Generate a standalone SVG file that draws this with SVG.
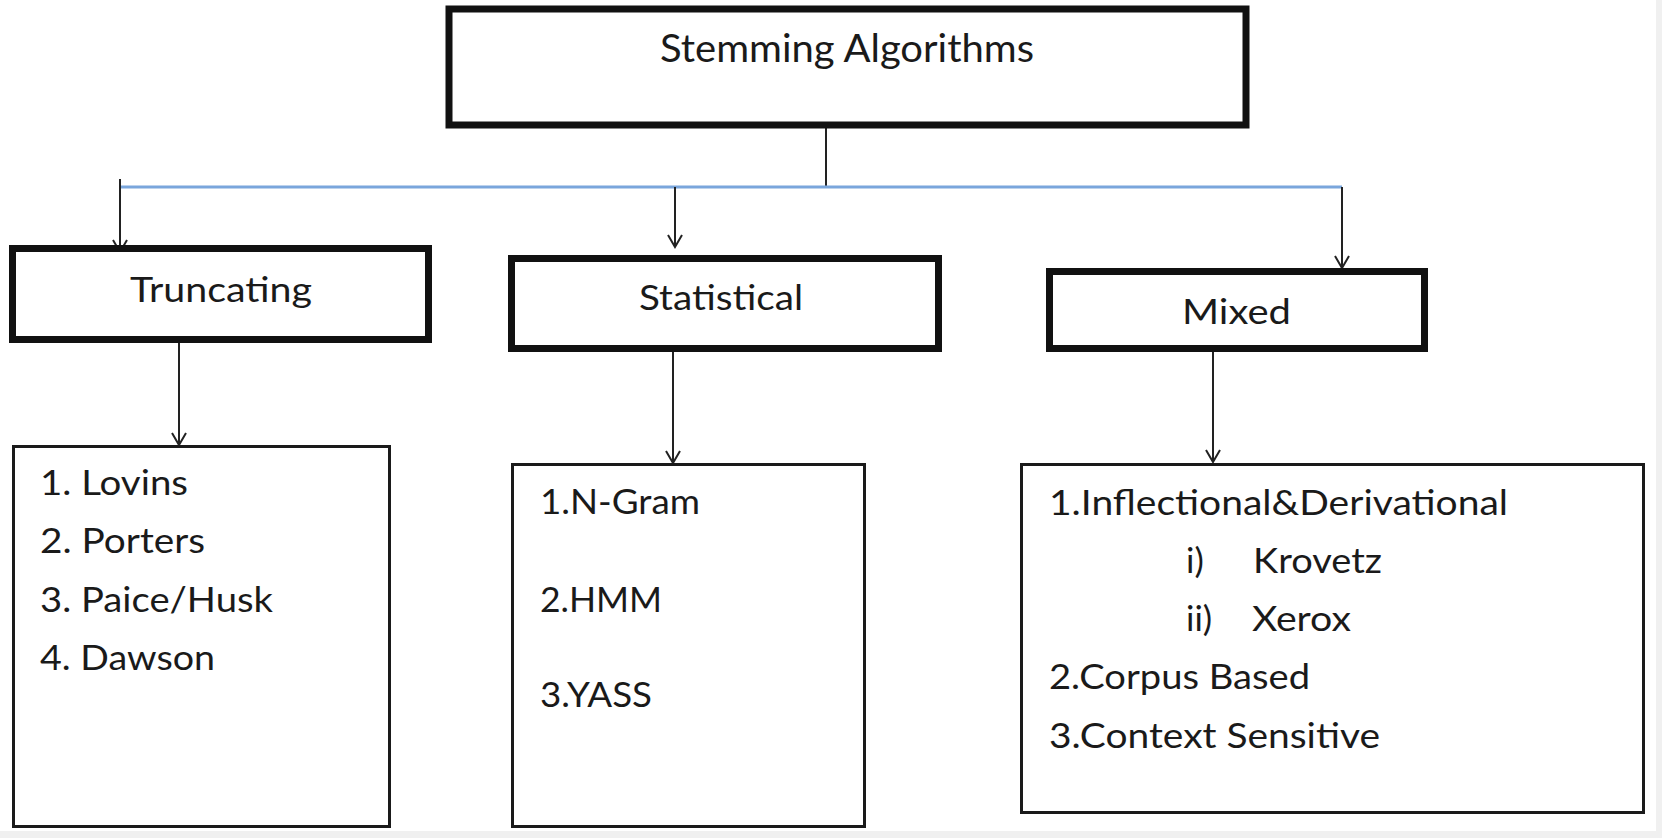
<svg xmlns="http://www.w3.org/2000/svg" width="1662" height="838" viewBox="0 0 1662 838">
<style>
  .hdr{fill:#fff;stroke:#111;stroke-width:7}
  .lst{fill:#fff;stroke:#1a1a1a;stroke-width:3}
  .t{font-family:Lato,"Liberation Sans",sans-serif;font-size:35px;fill:#1a1a1a}
  .big{font-size:39px}
  .con{stroke:#222;stroke-width:2;fill:none}
  .blue{stroke:#7aa6dc;stroke-width:3;fill:none}
</style>
<defs>
  <marker id="ah" markerUnits="userSpaceOnUse" viewBox="-14 -9 16 18" refX="0" refY="0" markerWidth="16" markerHeight="18" orient="auto" overflow="visible">
    <path d="M-12,-7 L0,0 L-12,7" fill="none" stroke="#222" stroke-width="2"/>
  </marker>
</defs>
<rect x="0" y="0" width="1662" height="838" fill="#fff"/>
<rect x="1656" y="0" width="6" height="838" fill="#f0f0f0"/>
<rect x="0" y="831" width="1662" height="7" fill="#f0f0f0"/>

<g id="connectors">
  <line class="con" x1="826" y1="128" x2="826" y2="187"/>
  <line class="blue" x1="120" y1="187" x2="1342" y2="187"/>
  <line class="con" x1="120" y1="179" x2="120" y2="252" marker-end="url(#ah)"/>
  <line class="con" x1="675" y1="187" x2="675" y2="247" marker-end="url(#ah)"/>
  <line class="con" x1="1342" y1="187" x2="1342" y2="268" marker-end="url(#ah)"/>
  <line class="con" x1="179" y1="343" x2="179" y2="445" marker-end="url(#ah)"/>
  <line class="con" x1="673" y1="352" x2="673" y2="463" marker-end="url(#ah)"/>
  <line class="con" x1="1213" y1="352" x2="1213" y2="462" marker-end="url(#ah)"/>
</g>

<g id="stemming">
  <rect class="hdr" x="449" y="9" width="797" height="116"/>
  <text class="t big" x="660" y="62" textLength="374" lengthAdjust="spacingAndGlyphs">Stemming Algorithms</text>
</g>

<g id="truncating">
  <rect class="hdr" x="12.5" y="248.5" width="416" height="91"/>
  <text class="t" x="130" y="302" textLength="182" lengthAdjust="spacingAndGlyphs">Truncating</text>
</g>

<g id="statistical">
  <rect class="hdr" x="511.5" y="258.5" width="427" height="90"/>
  <text class="t" x="639" y="310" textLength="164" lengthAdjust="spacingAndGlyphs">Statistical</text>
</g>

<g id="mixed">
  <rect class="hdr" x="1049.5" y="271.5" width="375" height="77"/>
  <text class="t" x="1182" y="324" textLength="109" lengthAdjust="spacingAndGlyphs">Mixed</text>
</g>

<g id="truncating-list">
  <rect class="lst" x="13.5" y="446.5" width="376" height="380"/>
  <text class="t" x="40" y="495" textLength="148" lengthAdjust="spacingAndGlyphs">1. Lovins</text>
  <text class="t" x="40" y="553" textLength="165" lengthAdjust="spacingAndGlyphs">2. Porters</text>
  <text class="t" x="40" y="612" textLength="233" lengthAdjust="spacingAndGlyphs">3. Paice/Husk</text>
  <text class="t" x="40" y="670" textLength="175" lengthAdjust="spacingAndGlyphs">4. Dawson</text>
</g>

<g id="statistical-list">
  <rect class="lst" x="512.5" y="464.5" width="352" height="362"/>
  <text class="t" x="540" y="514" textLength="160" lengthAdjust="spacingAndGlyphs">1.N-Gram</text>
  <text class="t" x="540" y="612" textLength="122" lengthAdjust="spacingAndGlyphs">2.HMM</text>
  <text class="t" x="540" y="707" textLength="112" lengthAdjust="spacingAndGlyphs">3.YASS</text>
</g>

<g id="mixed-list">
  <rect class="lst" x="1021.5" y="464.5" width="622" height="348"/>
  <text class="t" x="1049" y="515" textLength="459" lengthAdjust="spacingAndGlyphs">1.Inflectional&amp;Derivational</text>
  <text class="t" x="1186" y="573">i)</text>
  <text class="t" x="1253" y="573" textLength="129" lengthAdjust="spacingAndGlyphs">Krovetz</text>
  <text class="t" x="1186" y="631">ii)</text>
  <text class="t" x="1252" y="631" textLength="99" lengthAdjust="spacingAndGlyphs">Xerox</text>
  <text class="t" x="1049" y="689" textLength="261" lengthAdjust="spacingAndGlyphs">2.Corpus Based</text>
  <text class="t" x="1049" y="748" textLength="331" lengthAdjust="spacingAndGlyphs">3.Context Sensitive</text>
</g>
</svg>
